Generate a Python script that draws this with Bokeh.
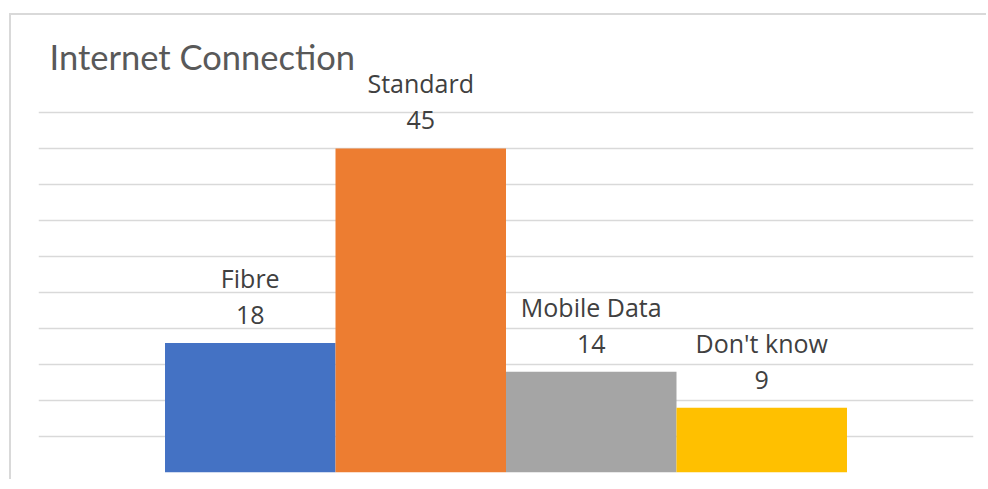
from bokeh.plotting import figure
from bokeh.models import Range1d, FixedTicker, ColumnDataSource
from bokeh.core.properties import value
from bokeh.embed import file_html
from bokeh.resources import INLINE

# Data
title_text = "Internet Connection"
categories = ["Fibre", "Standard", "Mobile Data", "Don't know"]
counts = [18, 45, 14, 9]
colors = ["#4472C4", "#ED7D31", "#A5A5A5", "#FFC000"]
grid_ticks = [0, 5, 10, 15, 20, 25, 30, 35, 40, 45, 50]

n = len(categories)
xs = [i - (n - 1) / 2 for i in range(n)]
src = ColumnDataSource(dict(x=xs, top=counts, color=colors, name=categories,
                            label=[str(c) for c in counts]))

X_HALF = 2.742
Y_END = 63.47

p = figure(width=977, height=466,
           x_range=Range1d(-X_HALF, X_HALF), y_range=Range1d(0, Y_END),
           output_backend="svg", toolbar_location=None,
           min_border_left=27, min_border_right=15,
           min_border_top=0, min_border_bottom=9)
p.styles = {"border-top": "2px solid #d9d9d9", "border-left": "2px solid #d9d9d9",
            "margin-top": "13px", "margin-left": "9px"}
p.xaxis.visible = False
p.yaxis.visible = False
p.xgrid.visible = False
p.ygrid.ticker = FixedTicker(ticks=grid_ticks)
p.ygrid.grid_line_color = "#d9d9d9"
p.ygrid.grid_line_width = 1.3
p.outline_line_color = None
p.background_fill_color = "white"
p.border_fill_color = "white"

p.vbar(x="x", top="top", bottom=0, width=1.0, color="color", source=src,
       line_color=None)

p.text(x="x", y="top", text="label", source=src, y_offset=-28,
       text_align="center", text_baseline="alphabetic",
       text_font=value("Open Sans"), text_font_size="25px", text_color="#404040")
p.text(x="x", y="top", text="name", source=src, y_offset=-65,
       text_align="center", text_baseline="alphabetic",
       text_font=value("Open Sans"), text_font_size="25px", text_color="#404040")

# chart title, placed near the top-left corner of the chart area
p.text(x=[-X_HALF + 11 / 170.5], y=[Y_END - 41 / 7.2], text=[title_text],
       text_align="left", text_baseline="alphabetic",
       text_font=value("Lato"), text_font_size="34.5px", text_color="#595959")

open("out.html", "w").write(file_html(p, INLINE))
